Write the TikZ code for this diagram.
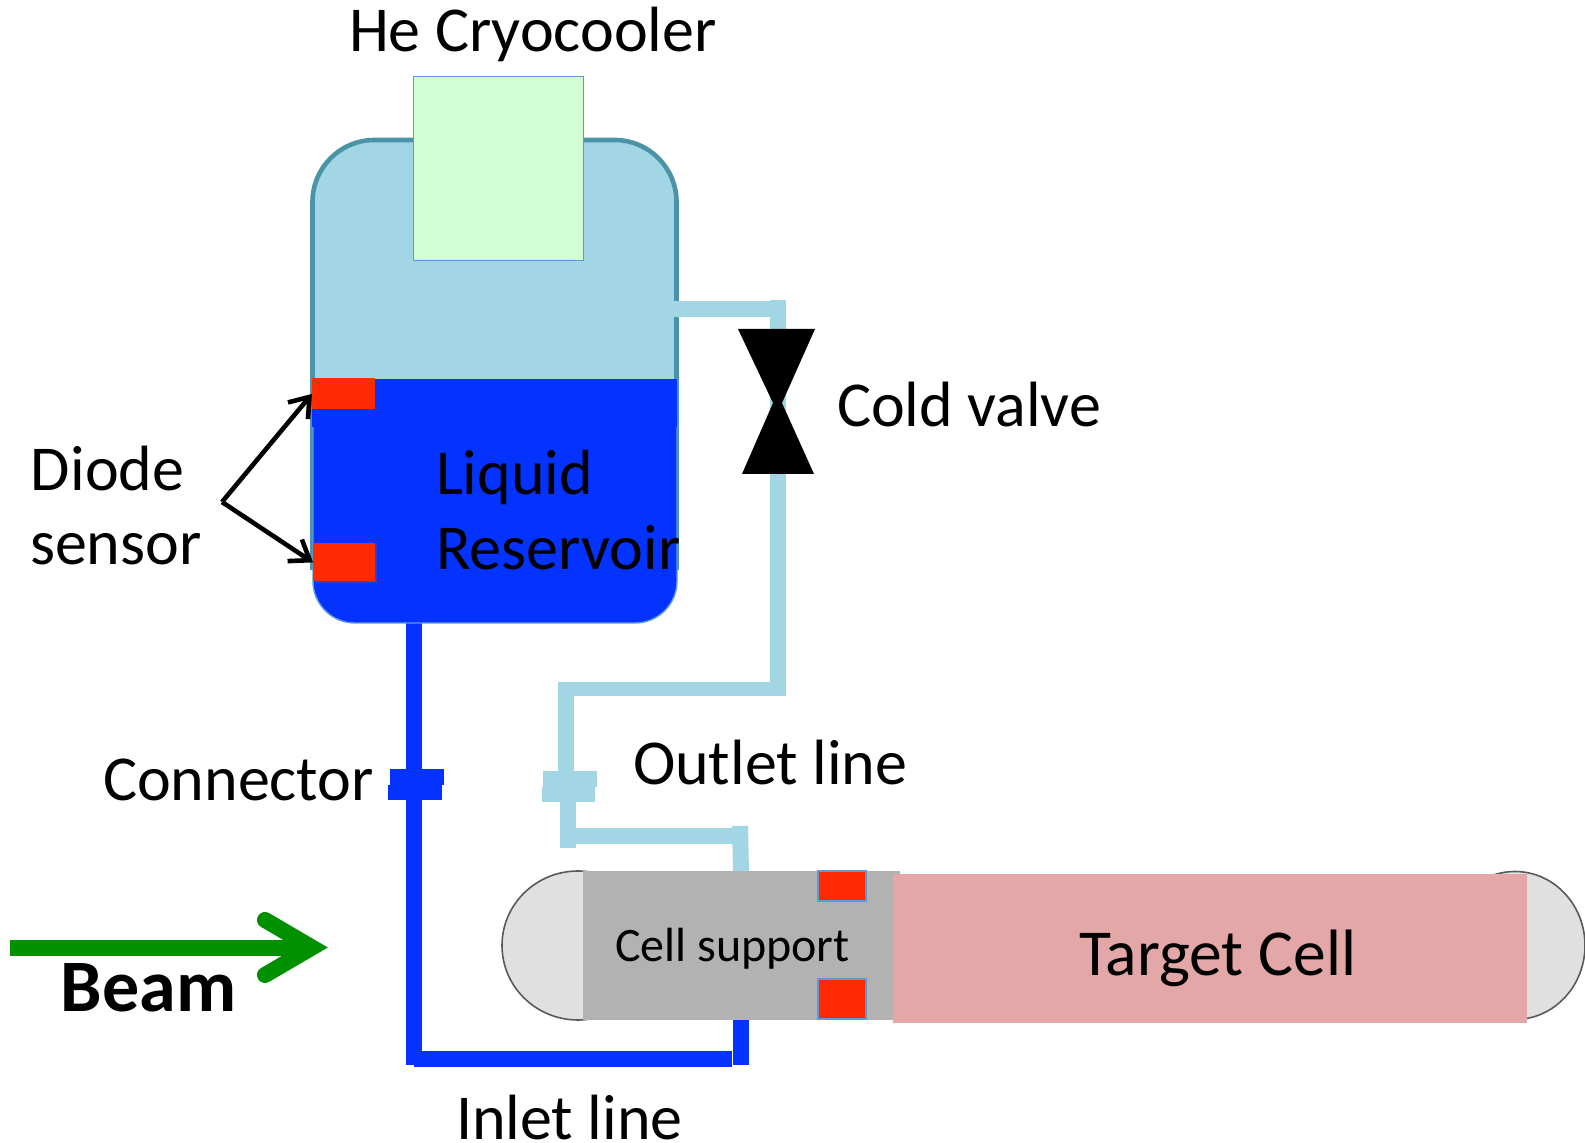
\documentclass[tikz,border=0pt]{standalone}
\usepackage{fontspec}
\setmainfont{Carlito}
\usetikzlibrary{arrows.meta,shadows}
\definecolor{gasblue}{HTML}{A3D6E4}
\definecolor{tealedge}{HTML}{4A93A8}
\definecolor{liqblue}{HTML}{0432FF}
\definecolor{sensorred}{HTML}{FF2A00}
\definecolor{edgeblue}{HTML}{5B9BD5}
\definecolor{cryogreen}{HTML}{D3FDD3}
\definecolor{cellpink}{HTML}{E2A7A6}
\definecolor{supportgray}{HTML}{B2B2B2}
\definecolor{capgray}{HTML}{E0E0E0}
\definecolor{beamgreen}{HTML}{009000}
\tikzset{
  x=0.5pt,y=-0.5pt,
  lbl/.style={anchor=base west,inner sep=0pt,outer sep=0pt,font=\fontsize{32}{34}\selectfont},
  targetlbl/.style={lbl,font=\fontsize{32.8}{34}\selectfont},
  small/.style={lbl,font=\fontsize{24}{26}\selectfont},
  beamlbl/.style={lbl,font=\fontsize{37}{38}\selectfont\bfseries},
  gasline/.style={fill=gasblue,draw=none},
  liqline/.style={fill=liqblue,draw=none},
  sensorbox/.style={fill=sensorred,draw=none},
  sensoredge/.style={fill=sensorred,draw=edgeblue,line width=1pt},
  ptr/.style={draw=black,line width=2.3pt,-{Straight Barb[length=9pt,width=13pt]}},
}
\begin{document}
\begin{tikzpicture}
\useasboundingbox (0,0) rectangle (1585,1143);
\clip (0,0) rectangle (1585,1143);
% target end caps
\draw[fill=capgray,draw=black!65,line width=0.8pt] (578,945.5) ellipse [x radius=76,y radius=74.5];
\draw[fill=capgray,draw=black!65,line width=0.8pt] (1515,945.5) ellipse [x radius=70,y radius=74];
% outlet line to cell
\fill[gasline] (732,826) -- (748,826) -- (749,871) -- (733,871) -- cycle;
\fill[gasline] (575,828) rectangle (733,844);
\fill[gasline] (560,800) rectangle (576,848);
\fill[gasline] (543,771) rectangle (597,787);
\fill[gasline] (542,787) rectangle (595,802);
\fill[gasline] (558,682) rectangle (574,790);
\fill[gasline] (558,682) rectangle (786,696);
\fill[gasline] (770,300) rectangle (786,690);
% inlet line
\fill[liqline] (406,620) rectangle (422,1065);
\fill[liqline] (414,1051) rectangle (732,1067);
\fill[liqline] (733,1015) rectangle (749,1065);
\fill[liqline] (390,769) rectangle (444,785);
\fill[liqline] (388,785) rectangle (442,800);
% reservoir
\draw[fill=gasblue,draw=tealedge,line width=2.3pt,rounded corners=31pt] (312.5,570) -- (312.5,140) -- (676.5,140) -- (676.5,570);
\fill[gasline] (672,301) rectangle (786,317);
\draw[fill=liqblue,draw=edgeblue,line width=0.7pt,rounded corners=21pt] (313,420) -- (313,623) -- (677,623) -- (677,420);
\fill[liqblue] (312,379) rectangle (677,427);
% cryocooler
\node[draw=edgeblue,fill=cryogreen,line width=0.6pt,minimum width=85pt,minimum height=92pt,inner sep=0pt,anchor=north west] (cryo) at (413,76) {};
% valve
\fill[black] (738,329) -- (815,329) -- (782,403) -- (814,474) -- (742,474) -- (773,403) -- cycle;
% cell support and target
\fill[supportgray] (583,871) rectangle (900,1020);
\fill[cellpink] (893,874) rectangle (1527,1023);
% sensors
\node[sensorbox,minimum width=31.5pt,minimum height=15.5pt,inner sep=0pt,anchor=north west] (s1) at (312,378) {};
\node[sensorbox,drop shadow={shadow xshift=1pt,shadow yshift=-1pt,opacity=.25},minimum width=31pt,minimum height=19pt,inner sep=0pt,anchor=north west] (s2) at (313,543) {};
\node[sensoredge,minimum width=24pt,minimum height=15pt,inner sep=0pt,anchor=north west] (s3) at (817,870) {};
\node[sensoredge,minimum width=24pt,minimum height=20pt,inner sep=0pt,anchor=north west] (s4) at (817,978) {};
% labels
\node[lbl] (he) at (349,52) {He Cryocooler};
\node[lbl] (cv) at (837,427) {Cold valve};
\node[lbl] (d1) at (31,491) {Diode};
\node[lbl] (d2) at (30,565) {sensor};
\node[lbl] (l1) at (436,495) {Liquid};
\node[lbl] (l2) at (436,570) {Reservoir};
\node[lbl] (cn) at (103,800) {Connector};
\node[lbl] (ol) at (633,784) {Outlet line};
\node[small] (cs) at (615,961) {Cell support};
\node[targetlbl] (tc) at (1079,975) {Target Cell};
\node[beamlbl] (bm) at (61,1011) {Beam};
\node[lbl] (il) at (456,1139) {Inlet line};
% diode pointers
\coordinate (fork) at (222,502);
\draw[ptr] (fork) -- (s1.west);
\draw[ptr] (fork) -- (s2.west);
% beam arrow
\coordinate (bstart) at (10,947.5);
\coordinate (bvertex) at (312,947.5);
\draw[beamgreen,line width=8pt] (bstart) -- (bvertex);
\draw[beamgreen,line width=8pt,line cap=round,line join=miter] (265,920) -- (bvertex) -- (265,975);
\end{tikzpicture}
\end{document}
